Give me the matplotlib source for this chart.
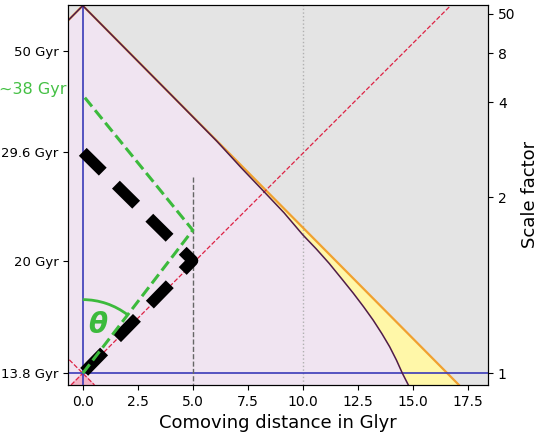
import matplotlib.pyplot as plt
from matplotlib.patches import Arc

# comoving Hubble sphere, x in Glyr, y in conformal time from now
hubble_x = [0.0, 2.0, 4.0, 6.1, 7.2, 8.25, 9.15, 10.0, 10.62, 11.2, 11.77, 12.3,
            12.77, 13.2, 13.6, 13.95, 14.26, 14.53, 14.8]
hubble_y = [16.72, 14.70, 12.68, 10.55, 9.35, 8.25, 7.3, 6.3, 5.65, 5.0, 4.3, 3.64,
            3.02, 2.42, 1.8, 1.21, 0.6, 0.0, -0.53]

# event horizon (straight light ray)
eh_x = [0.0, 17.1]
eh_y = [16.72, -0.53]

# light paths
black_x = [0, 5, 0]
black_y = [0, 5.12, 10.07]
green_x = [0, 5, 0]
green_y = [0, 6.51, 12.65]

galaxy_x = 5
galaxy_top = 8.94
dotted_x = 10

time_pos = [0, 5.12, 10.07, 14.66]
time_labels = ['13.8 Gyr', '20 Gyr', '29.6 Gyr', '50 Gyr']
scale_pos = [0, 8.0, 12.32, 14.55, 16.36]
scale_labels = ['1', '2', '4', '8', '50']
xticks = [0, 2.5, 5, 7.5, 10, 12.5, 15, 17.5]

xmin, xmax = -0.67, 18.43
ymin, ymax = -0.53, 16.76

fig = plt.figure(figsize=(5.4, 4.33), dpi=100)
ax = fig.add_axes([0.126, 0.111, 0.778, 0.878])
ax.set_facecolor('#e4e4e4')

# inside the event horizon cone
cone_x = [-eh_x[1], eh_x[0], eh_x[1]]
cone_y = [eh_y[1], eh_y[0], eh_y[1]]
ax.fill(cone_x, cone_y, color='#f0e4f1', zorder=1)

# between hubble sphere and event horizon
yel_x = hubble_x + eh_x[::-1]
yel_y = hubble_y + eh_y[::-1]
ax.fill(yel_x, yel_y, color='#fff7a8', zorder=1.5)

# past light cone
ax.fill([ymin, 0, -ymin], [ymin, 0, ymin], color='#f3b4c6', zorder=1.6)

ax.plot(eh_x, eh_y, color='#f0a030', lw=1.6, zorder=3)
ax.plot([-v for v in eh_x], eh_y, color='#f0a030', lw=1.6, zorder=3)
ax.plot(hubble_x, hubble_y, color='#4e1a4e', lw=1.1, zorder=4)
ax.plot([-v for v in hubble_x], hubble_y, color='#4e1a4e', lw=1.1, zorder=4)

ax.plot([ymin, ymax], [ymin, ymax], color='#dd2244', ls='--', lw=0.9, zorder=3)
ax.plot([-ymax, -ymin], [ymax, ymin], color='#dd2244', ls='--', lw=0.9, zorder=3)

ax.axvline(0, color='#3a3ab8', lw=1.2, zorder=3)
ax.axhline(0, color='#3a3ab8', lw=1.2, zorder=3)
ax.plot([galaxy_x, galaxy_x], [galaxy_top, ymin], color='#666666', ls='--', lw=1, zorder=3)
ax.axvline(dotted_x, color='#b0b0b0', ls=':', lw=1, zorder=2)

ax.plot(black_x, black_y, color='black', lw=8, ls=(4.05, (2.565, 1.665)), zorder=5)
ax.plot(green_x, green_y, color='#3cba3c', lw=2.2, ls='--', zorder=6)

ax.add_patch(Arc((0, 0), 6.7, 6.7, theta1=52.5, theta2=90, color='#3cba3c', lw=2, zorder=6))
ax.text(0.7, 2.2, 'θ', color='#3cba3c', fontsize=20, fontstyle='italic',
        fontweight='bold', ha='center', va='center', zorder=7)
ax.text(-0.72, 12.9, '~38 Gyr', color='#44c044', fontsize=11.5, ha='right', va='center',
        clip_on=False)

ax.set_xlim(xmin, xmax)
ax.set_ylim(ymin, ymax)
ax.set_xticks(xticks)
ax.set_yticks(time_pos)
ax.set_yticklabels(time_labels, fontsize=9.5)
ax.set_xlabel('Comoving distance in Glyr', fontsize=13)

ax2 = ax.twinx()
ax2.set_ylim(ymin, ymax)
ax2.set_yticks(scale_pos)
ax2.set_yticklabels(scale_labels)
ax2.set_ylabel('Scale factor', fontsize=13)

fig.savefig('out.png')
